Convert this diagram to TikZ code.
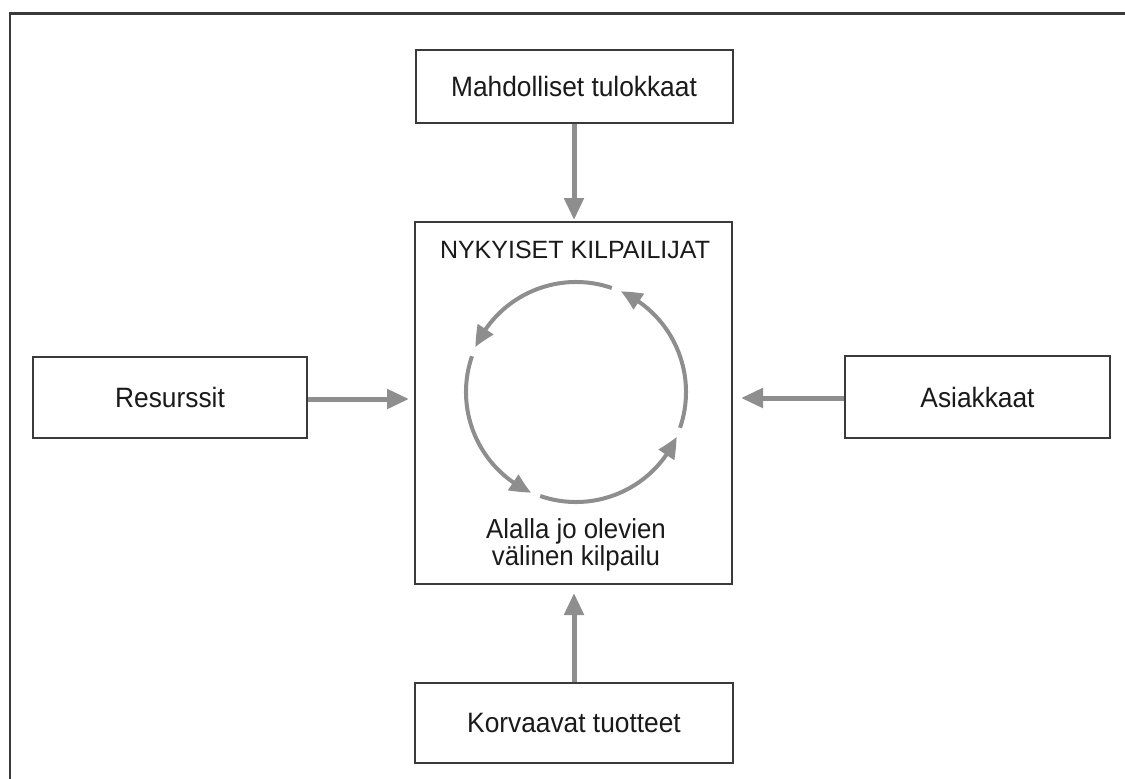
\documentclass[tikz,border=0pt]{standalone}
\usepackage{fontspec}
\setmainfont{Liberation Sans}
\newfontfamily\narrowsans[FakeStretch=0.94]{Liberation Sans}
\usetikzlibrary{arrows.meta,bending}
\definecolor{boxline}{HTML}{3A3A3A}
\definecolor{arrgray}{HTML}{8E8E8E}
\definecolor{txt}{HTML}{1A1A1A}
\begin{document}
\begin{tikzpicture}[x=1pt,y=-1pt,
  box/.style={draw=boxline,line width=2pt,rectangle,inner sep=0pt,text=txt,font=\narrowsans\fontsize{28}{30}\selectfont},
  conn/.style={draw=arrgray,line width=5pt,-{Triangle[length=22pt,width=19pt]}},
  circarr/.style={draw=arrgray,line width=4pt,-{Triangle[length=21pt,width=18pt,bend]}},
  lbl/.style={text=txt,inner sep=0pt}]
\useasboundingbox (0,0) rectangle (1125,779);
\fill[white] (0,0) rectangle (1125,779);
% outer frame (top and left)
\draw[line width=2.6pt,draw=boxline] (10,779) -- (10,13.5) -- (1125,13.5);
% boxes
\node[box,minimum width=317pt,minimum height=73pt] (top) at (574,86.5) {Mahdolliset tulokkaat};
\node[box,minimum width=317pt,minimum height=362pt] (ctr) at (573.5,403) {};
\node[box,minimum width=274pt,minimum height=81pt] (lft) at (170,397.5) {Resurssit};
\node[box,minimum width=265pt,minimum height=82pt] (rgt) at (977.5,397) {Asiakkaat};
\node[box,minimum width=318pt,minimum height=80pt] (bot) at (574,723) {Korvaavat tuotteet};
% texts inside centre box
\node[lbl,anchor=base,font=\fontsize{25}{28}\selectfont] (title) at (575,258) {NYKYISET KILPAILIJAT};
\node[lbl,anchor=base,align=center,font=\narrowsans\fontsize{27.5}{25}\selectfont] (sub) at (576,565) {Alalla jo olevien\\välinen kilpailu};
% connectors
\draw[conn,shorten >=1pt] (top.south) -- (top.south |- ctr.north);
\draw[conn,shorten >=5pt] ([yshift=-1.5pt]lft.east) -- ([yshift=-1.5pt]lft.east -| ctr.west);
\draw[conn,shorten >=8pt] ([yshift=-1pt]rgt.west) -- ([yshift=-1pt]rgt.west -| ctr.east);
\draw[conn,shorten >=8pt] (bot.north) -- (bot.north |- ctr.south);
% circle of competition
\coordinate (c) at (576,392);
\foreach \a in {0,90,180,270}{
  \draw[circarr] ([shift={(-71-\a:110)}]c) arc[start angle=-71-\a, end angle=-156-\a, radius=110];
}
\end{tikzpicture}
\end{document}
